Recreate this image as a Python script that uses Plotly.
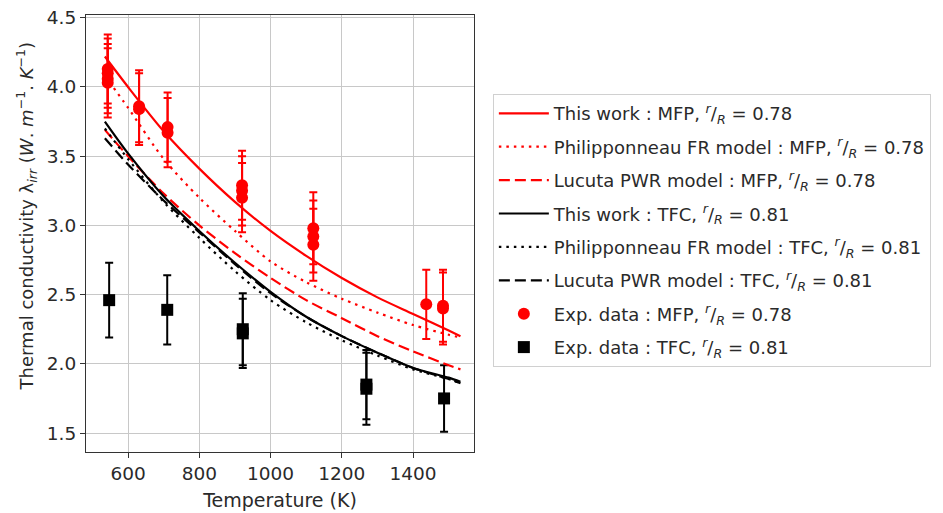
import plotly.graph_objects as go

# Temperature grid of the model curves (K)
T_model = [535, 600, 700, 800, 900, 1000, 1100, 1200, 1300, 1400, 1500, 1533]

# MFP pellet, r/R = 0.78
mfp_this_work = [4.22, 4.00, 3.68, 3.41, 3.17, 2.96, 2.78, 2.62, 2.48, 2.36, 2.24, 2.20]
mfp_philipponneau = [4.08, 3.85, 3.48, 3.20, 2.96, 2.74, 2.59, 2.47, 2.37, 2.28, 2.21, 2.19]
mfp_lucuta = [3.69, 3.50, 3.23, 3.00, 2.80, 2.62, 2.46, 2.33, 2.20, 2.09, 1.99, 1.96]

# TFC pellet, r/R = 0.81
tfc_this_work = [3.75, 3.52, 3.21, 2.96, 2.73, 2.52, 2.34, 2.20, 2.08, 1.97, 1.90, 1.87]
tfc_philipponneau = [3.70, 3.48, 3.17, 2.91, 2.67, 2.46, 2.30, 2.17, 2.06, 1.96, 1.89, 1.86]
tfc_lucuta = [3.63, 3.44, 3.18, 2.95, 2.72, 2.51, 2.34, 2.20, 2.08, 1.97, 1.89, 1.86]

# Experimental points
mfp_T = [543, 543, 543, 543, 631, 631, 711, 711, 920, 920, 920, 1120, 1120, 1120, 1437, 1484, 1484]
mfp_k = [4.13, 4.10, 4.06, 4.03, 3.86, 3.84, 3.71, 3.67, 3.29, 3.25, 3.20, 2.98, 2.92, 2.86, 2.43, 2.42, 2.40]
mfp_err = [0.25, 0.25, 0.25, 0.25, 0.26, 0.26, 0.25, 0.25, 0.25, 0.25, 0.25, 0.26, 0.26, 0.26, 0.25, 0.26, 0.26]

tfc_T = [547, 710, 922, 922, 1269, 1269, 1487]
tfc_k = [2.46, 2.39, 2.25, 2.22, 1.85, 1.82, 1.75]
tfc_err = [0.27, 0.25, 0.26, 0.25, 0.25, 0.26, 0.24]

x_ticks = [600, 800, 1000, 1200, 1400]
y_ticks = [1.5, 2.0, 2.5, 3.0, 3.5, 4.0, 4.5]

RED = "#ff0000"
BLACK = "#000000"
FONT = "DejaVu Sans"
TEXT = "#2a2a2a"

frac = "<sup><i>r</i></sup>/<sub><i>R</i></sub>"
lab_mfp = ", " + frac + " = 0.78"
lab_tfc = ", " + frac + " = 0.81"

DOT = "2.5px,5px"
DASH = "11px,5px"

fig = go.Figure()

# experimental data with error bars
fig.add_trace(go.Scatter(
    x=mfp_T, y=mfp_k, mode="markers",
    marker=dict(symbol="circle", size=12, color=RED),
    error_y=dict(type="data", array=mfp_err, color=RED, thickness=2, width=4),
    name="Exp. data : MFP" + lab_mfp, legendrank=7, legendgroup="g7",
))
fig.add_trace(go.Scatter(
    x=tfc_T, y=tfc_k, mode="markers",
    marker=dict(symbol="square", size=12, color=BLACK),
    error_y=dict(type="data", array=tfc_err, color=BLACK, thickness=2, width=4),
    name="Exp. data : TFC" + lab_tfc, legendrank=8, legendgroup="g8",
))

curves = [
    (mfp_this_work, RED, "solid", "This work : MFP" + lab_mfp, 1),
    (mfp_philipponneau, RED, DOT, "Philipponneau FR model : MFP" + lab_mfp, 2),
    (mfp_lucuta, RED, DASH, "Lucuta PWR model : MFP" + lab_mfp, 3),
    (tfc_this_work, BLACK, "solid", "This work : TFC" + lab_tfc, 4),
    (tfc_philipponneau, BLACK, DOT, "Philipponneau FR model : TFC" + lab_tfc, 5),
    (tfc_lucuta, BLACK, DASH, "Lucuta PWR model : TFC" + lab_tfc, 6),
]
for ys, col, dash, name, rank in curves:
    fig.add_trace(go.Scatter(
        x=T_model, y=ys, mode="lines",
        line=dict(color=col, width=2.2, dash=dash, shape="spline", smoothing=0.8),
        name=name, legendrank=rank, legendgroup="g%d" % rank,
    ))

axis_common = dict(
    showgrid=True, gridcolor="#c8c8c8", gridwidth=1.2,
    showline=True, linecolor="#333333", linewidth=1.2, mirror=True,
    ticks="outside", ticklen=5, tickwidth=1.2, tickcolor="#333333",
    tickfont=dict(family=FONT, size=18.5, color=TEXT),
    zeroline=False, automargin=False,
)

fig.update_layout(
    width=943, height=513,
    margin=dict(l=86, r=466, t=15, b=61),
    paper_bgcolor="white", plot_bgcolor="white",
    font=dict(family=FONT, size=18, color=TEXT),
    showlegend=True,
    legend=dict(
        x=1.0486, y=0.819, xanchor="left", yanchor="top",
        bgcolor="white", bordercolor="#d0d0d0", borderwidth=1,
        font=dict(family=FONT, size=18, color=TEXT),
        traceorder="grouped", tracegroupgap=7,
        itemwidth=50,
    ),
    xaxis=dict(
        range=[482, 1571], tickvals=x_ticks, ticktext=[str(v) for v in x_ticks],
        title=dict(text="Temperature (K)", font=dict(family=FONT, size=19, color=TEXT), standoff=10),
        **axis_common,
    ),
    yaxis=dict(
        range=[1.363, 4.52], tickvals=y_ticks, tickformat=".1f",
        **axis_common,
    ),
)

fig.add_annotation(
    text="Thermal conductivity λ<sub><i>irr</i></sub> (<i>W</i>. <i>m</i><sup>−1</sup>. <i>K</i><sup>−1</sup>)",
    xref="paper", yref="paper", x=-0.1535, y=0.54,
    xanchor="center", yanchor="middle", textangle=-90, showarrow=False,
    font=dict(family=FONT, size=18, color=TEXT),
)

fig.write_html("out.html")
